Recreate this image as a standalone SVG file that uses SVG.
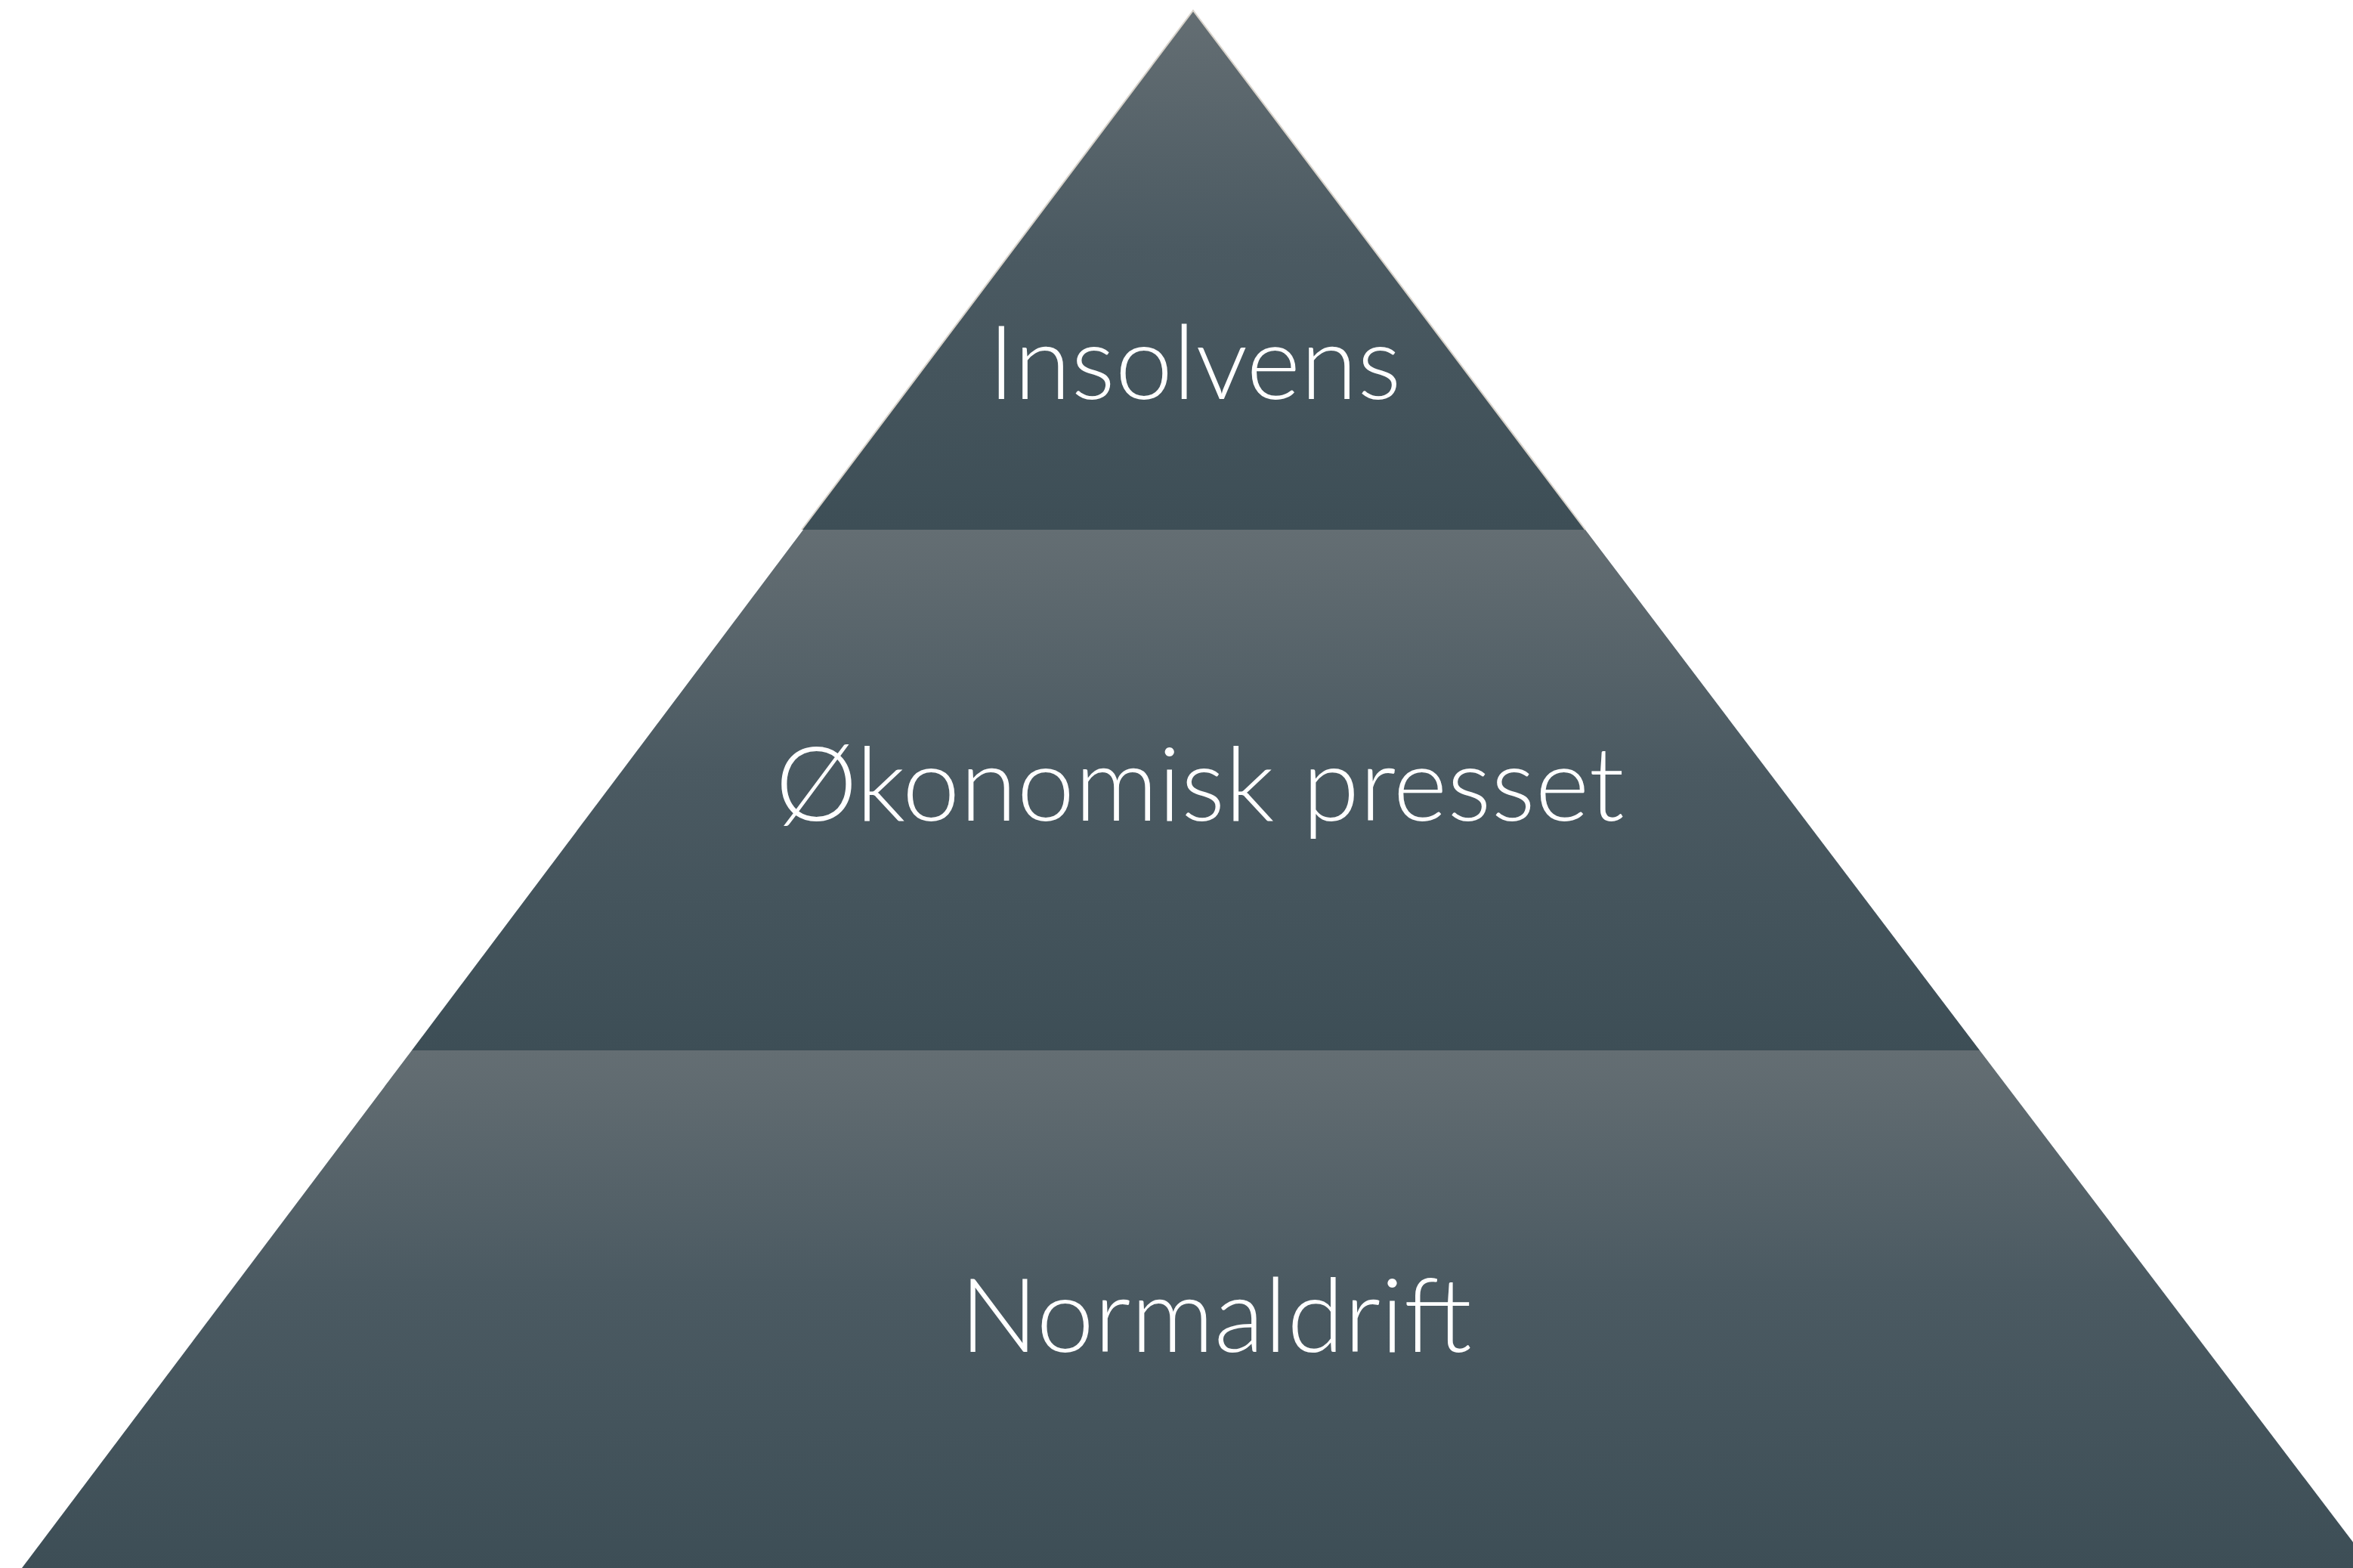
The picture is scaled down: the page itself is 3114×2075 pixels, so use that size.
<svg xmlns="http://www.w3.org/2000/svg" width="3114" height="2075" viewBox="0 0 3114 2075">
  <defs>
    <linearGradient id="band" x1="0" y1="0" x2="0" y2="1">
      <stop offset="0" stop-color="#646e73"/>
      <stop offset="0.45" stop-color="#4b5a62"/>
      <stop offset="1" stop-color="#3d4e56"/>
    </linearGradient>
  </defs>
  <style>
    .lvl { fill: url(#band); }
    .edge { fill: none; stroke: #d8d3cb; stroke-width: 2; }
    .lbl { fill: #ffffff; font-family: "Lato", "Open Sans", "Liberation Sans", sans-serif; font-weight: 300; font-size: 137px; text-anchor: middle; }
  </style>
  <rect width="3114" height="2075" fill="#ffffff"/>
  <g id="connectors"></g>
  <g id="level-normaldrift">
    <polygon class="lvl" points="545,1390 2620,1390 3140,2075 29,2075"/>
    <text class="lbl" x="1609" y="1789">Normaldrift</text>
  </g>
  <g id="level-okonomisk-presset">
    <polygon class="lvl" points="1063,701 2098,701 2620,1390 545,1390"/>
    <text class="lbl" x="1588" y="1086">Økonomisk presset</text>
  </g>
  <g id="level-insolvens">
    <polygon class="lvl" points="1579,14 2098,701 1061,701"/>
    <polyline class="edge" points="1061,701 1579,14 2098,701"/>
    <text class="lbl" x="1581" y="528">Insolvens</text>
  </g>
</svg>
